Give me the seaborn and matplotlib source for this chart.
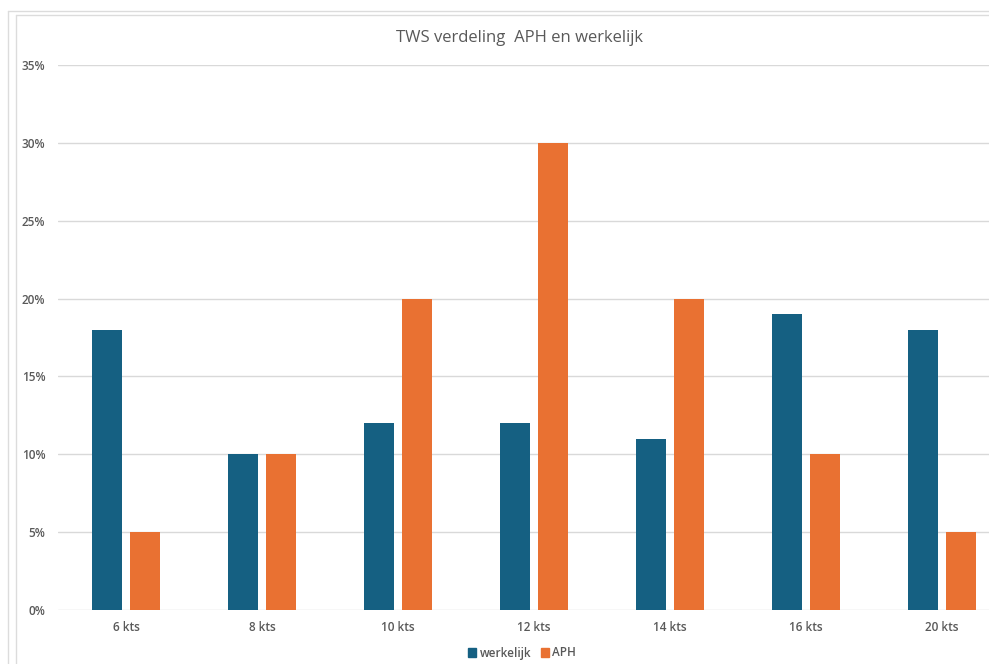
import matplotlib
matplotlib.use('Agg')
import matplotlib.pyplot as plt
import matplotlib.ticker as mticker
from matplotlib.lines import Line2D
import seaborn as sns
import pandas as pd

# ── Data ──────────────────────────────────────────────────────────────────────
categories = ['6 kts', '8 kts', '10 kts', '12 kts', '14 kts', '16 kts', '20 kts']
werkelijk = [0.18, 0.10, 0.12, 0.12, 0.11, 0.19, 0.18]
aph = [0.05, 0.10, 0.20, 0.30, 0.20, 0.10, 0.05]
series = ['werkelijk', 'APH']

df = pd.DataFrame({
    'cat': categories * 2,
    'serie': ['werkelijk'] * len(categories) + ['APH'] * len(categories),
    'waarde': werkelijk + aph,
})

BLUE = '#156082'
ORANGE = '#E97132'
TXT = '#595959'

sns.set_style('white')
plt.rcParams['font.family'] = ['Open Sans', 'DejaVu Sans']

W, H = 989, 664
fig = plt.figure(figsize=(W / 100, H / 100), dpi=100)
fig.patch.set_facecolor('white')

# plot area (extends past right edge, like the cropped screenshot)
x0, x1 = 58, 1010
y_top, y_bot = 65, 610
ax = fig.add_axes([x0 / W, 1 - y_bot / H, (x1 - x0) / W, (y_bot - y_top) / H])

sns.barplot(data=df, x='cat', y='waarde', hue='serie', order=categories,
            hue_order=series, palette=[BLUE, ORANGE], width=0.56, gap=0.21,
            saturation=1, linewidth=0, ax=ax, legend=False)

ax.set_ylim(0, 0.35)
ax.set_xlim(-0.5, len(categories) - 0.5)
ax.yaxis.set_major_locator(mticker.MultipleLocator(0.05))
ax.yaxis.set_major_formatter(mticker.PercentFormatter(1.0, decimals=0))
ax.grid(axis='y', color='#d9d9d9', linewidth=1)
ax.set_axisbelow(True)
for s in ax.spines.values():
    s.set_visible(False)
ax.tick_params(axis='both', length=0, labelsize=8.5, labelcolor=TXT)
ax.tick_params(axis='x', pad=8)
ax.tick_params(axis='y', pad=9)
for lbl in ax.get_xticklabels() + ax.get_yticklabels():
    lbl.set_fontweight('semibold')
ax.set_xlabel('')
ax.set_ylabel('')

fig.text(519 / W, 1 - 38 / H, 'TWS verdeling  APH en werkelijk', ha='center',
         va='center', fontsize=12, color=TXT)

handles = [plt.Rectangle((0, 0), 1, 1, color=c) for c in [BLUE, ORANGE]]
leg = fig.legend(handles, series, loc='center', bbox_to_anchor=(522 / W, 1 - 653 / H),
                 ncol=2, frameon=False, fontsize=8.5, handlelength=0.7, handleheight=0.7,
                 handletextpad=0.3, columnspacing=0.8)
for t in leg.get_texts():
    t.set_color(TXT)
    t.set_fontweight('semibold')

# screenshot frame lines
fc = '#dcdcdc'
fig.add_artist(Line2D([8 / W, 1], [1 - 11 / H] * 2, color=fc, lw=1, transform=fig.transFigure))
fig.add_artist(Line2D([8 / W] * 2, [0, 1 - 11 / H], color=fc, lw=1, transform=fig.transFigure))
fig.add_artist(Line2D([16 / W, 1], [1 - 15 / H] * 2, color=fc, lw=1, transform=fig.transFigure))
fig.add_artist(Line2D([16 / W] * 2, [0, 1 - 15 / H], color=fc, lw=1, transform=fig.transFigure))

fig.savefig('out.png', dpi=100)
